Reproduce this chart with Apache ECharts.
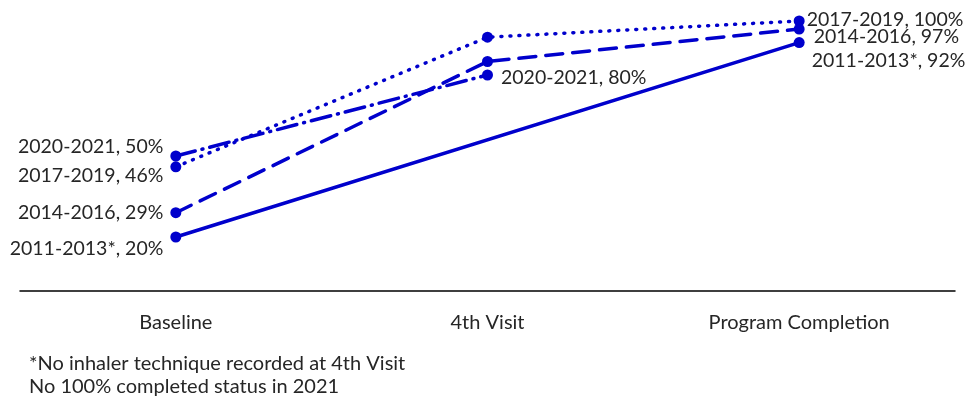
<!DOCTYPE html>
<html>
<head>
<meta charset="utf-8">
<script src="https://cdn.jsdelivr.net/npm/echarts@6/dist/echarts.min.js"></script>
<style>
  html, body { margin: 0; padding: 0; background: #fff; }
  #chart { width: 969px; height: 402px; }
</style>
</head>
<body>
<div id="chart"></div>
<script>
// Inhaler technique by cohort across program milestones (percent)
const categories = ['Baseline', '4th Visit', 'Program Completion'];
const cohorts = ['2011-2013*', '2014-2016', '2017-2019', '2020-2021'];
const values2011 = [20, null, 92];
const values2014 = [29, 85, 97];
const values2017 = [46, 94, 100];
const values2020 = [50, 80, null];
const footnotes = ['*No inhaler technique recorded at 4th Visit', 'No 100% completed status in 2021'];

const BLUE = '#0000CC';
const FONT = 'Lato';
const TEXT = '#262626';

// label placement per cohort and point: [position, offsetX, offsetY] or null for no label
const labelPlacement = {
  '2011-2013*': [['left', -2, 12], null, ['right', 2, 18]],
  '2014-2016': [['left', -2, 0], null, ['right', 4, 8]],
  '2017-2019': [['left', -2, 9], null, ['right', -3, -1]],
  '2020-2021': [['left', -2, -9], ['right', 3, 3], null]
};

const lineTypes = {
  '2011-2013*': 'solid',
  '2014-2016': [17, 10],
  '2017-2019': [1, 8],
  '2020-2021': [20, 7, 1, 7]
};

const seriesValues = {
  '2011-2013*': values2011,
  '2014-2016': values2014,
  '2017-2019': values2017,
  '2020-2021': values2020
};

function buildSeries(name) {
  const vals = seriesValues[name];
  return {
    name: name,
    type: 'line',
    connectNulls: true,
    symbol: 'circle',
    symbolSize: 11,
    itemStyle: { color: BLUE },
    lineStyle: { color: BLUE, width: 3.5, type: lineTypes[name], cap: 'round' },
    data: vals.map((v, i) => {
      const p = labelPlacement[name][i];
      const item = { value: v };
      if (p && v != null) {
        item.label = {
          show: true,
          position: p[0],
          offset: [p[1], p[2]],
          formatter: name + ', ' + v + '%',
          color: TEXT,
          fontFamily: FONT,
          fontSize: 19.5
        };
      }
      return item;
    })
  };
}

const chart = echarts.init(document.getElementById('chart'), null, { renderer: 'canvas' });
chart.setOption({
  animation: false,
  backgroundColor: '#fff',
  grid: { left: 20, right: 14, top: 21, bottom: 111, containLabel: false },
  xAxis: {
    type: 'category',
    data: categories,
    boundaryGap: true,
    axisLine: { show: true, lineStyle: { color: '#000', width: 1.5 } },
    axisTick: { show: false },
    axisLabel: { color: TEXT, fontFamily: FONT, fontSize: 20, margin: 22 }
  },
  yAxis: {
    type: 'value',
    min: 0,
    max: 100,
    show: false,
    splitLine: { show: false }
  },
  series: cohorts.map(buildSeries),
  graphic: footnotes.map((t, i) => ({
    type: 'text',
    left: 29,
    top: 354 + i * 23,
    style: { text: t, fill: TEXT, font: '20px ' + FONT }
  }))
});
</script>
</body>
</html>
